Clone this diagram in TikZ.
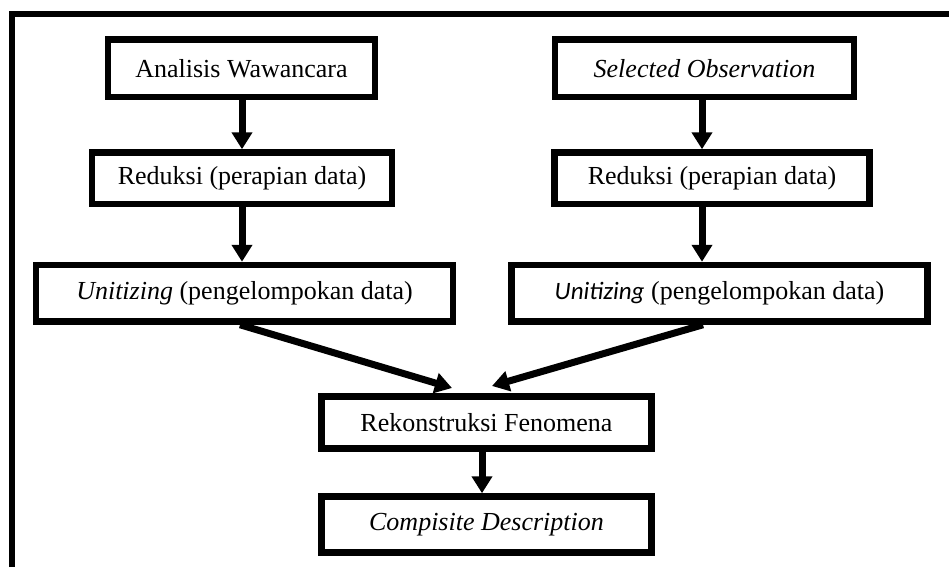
\documentclass[tikz,border=0pt]{standalone}
\usepackage{fontspec}
\setmainfont{Liberation Serif}
\newfontfamily\calib{Carlito}
\usetikzlibrary{arrows.meta}
\begin{document}
\begin{tikzpicture}[x=1pt,y=-1pt,
  box/.style={draw=black, line width=6.5pt, inner sep=0pt, align=center, font=\fontsize{26}{30}\selectfont},
  arr/.style={line width=7pt, -{Triangle[length=17pt,width=20pt]}},
  frame/.style={line width=6pt}]
\useasboundingbox (0,0) rectangle (949,567);
\fill[white] (0,0) rectangle (949,567);
\draw[frame] (12,567) -- (12,14) -- (949,14);

\node[box, minimum width=267pt, minimum height=57.5pt] (aw) at (241.5,68.25) {Analisis Wawancara};
\node[box, minimum width=300pt, minimum height=51.5pt] (rl) at (242,178.25) {Reduksi (perapian data)};
\node[box, minimum width=417pt, minimum height=56.5pt] (ul) at (244.5,293.25) {\textit{Unitizing} (pengelompokan data)};
\node[box, minimum width=299pt, minimum height=57.5pt] (so) at (704.5,68.25) {\textit{Selected Observation}};
\node[box, minimum width=315pt, minimum height=51.5pt] (rr) at (712,178.25) {Reduksi (perapian data)};
\node[box, minimum width=416pt, minimum height=56.5pt] (ur) at (719.5,293.25) {{\calib\itshape\fontsize{25}{30}\selectfont Unitizing} (pengelompokan data)};
\node[box, minimum width=330pt, minimum height=52pt] (rk) at (486.5,422.5) {Rekonstruksi Fenomena};
\node[box, minimum width=330pt, minimum height=56pt] (cd) at (486.5,524.5) {\textit{Compisite Description}};

\coordinate (xl) at (242,0);
\coordinate (xr) at (702,0);
\coordinate (xlo) at (240,0);
\coordinate (xro) at (703,0);
\coordinate (xc) at (482,0);
\coordinate (tl) at (452,388);
\coordinate (tr) at (492,386);

\draw[arr] (aw.south -| xl) -- (rl.north -| xl);
\draw[arr] (rl.south -| xl) -- (ul.north -| xl);
\draw[arr] (so.south -| xr) -- (rr.north -| xr);
\draw[arr] (rr.south -| xr) -- (ur.north -| xr);
\draw[arr] (ul.south -| xlo) -- (tl);
\draw[arr] (ur.south -| xro) -- (tr);
\draw[arr] (rk.south -| xc) -- (cd.north -| xc);
\end{tikzpicture}
\end{document}
